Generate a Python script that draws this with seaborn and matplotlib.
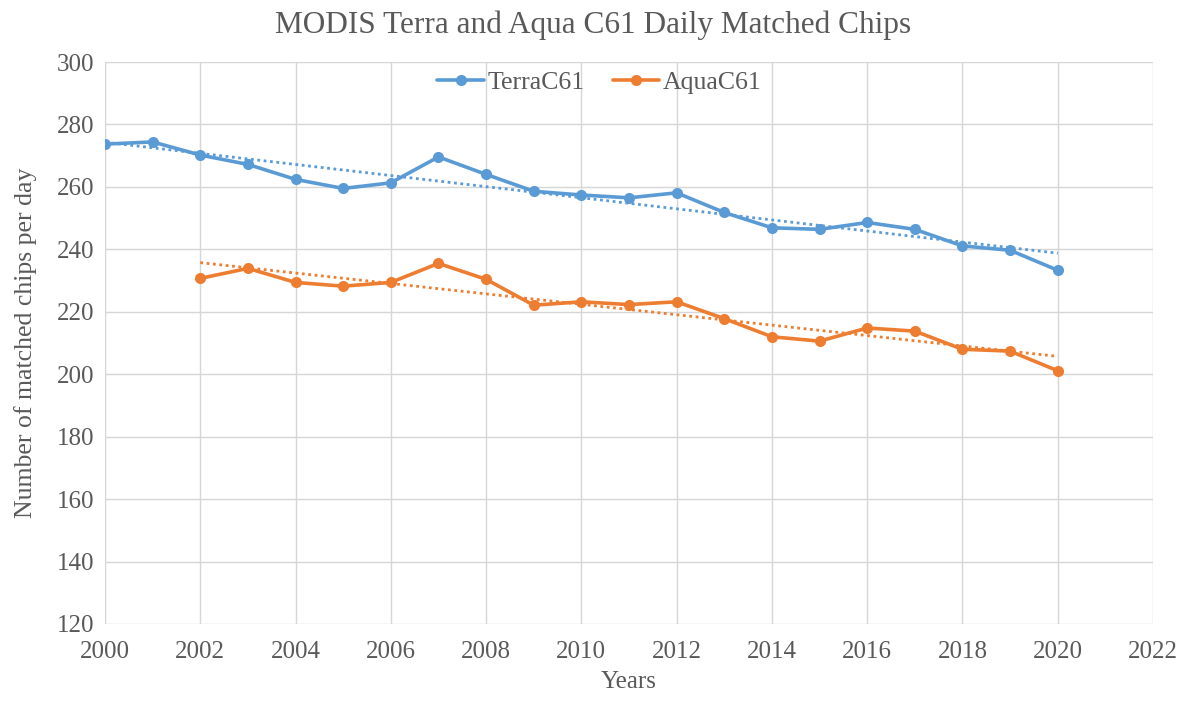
import numpy as np
import pandas as pd
import matplotlib
matplotlib.use("Agg")
import matplotlib.pyplot as plt
import seaborn as sns

# Yearly average number of matched chips per day
terra_years = list(range(2000, 2021))
terra_values = [273.7, 274.4, 270.2, 267.2, 262.4, 259.5, 261.3, 269.6, 264.0,
                258.6, 257.4, 256.5, 258.1, 251.8, 246.9, 246.4, 248.6, 246.4,
                241.1, 239.7, 233.3]

aqua_years = list(range(2002, 2021))
aqua_values = [230.7, 233.9, 229.4, 228.2, 229.4, 235.5, 230.4, 222.1, 223.2,
               222.3, 223.2, 217.8, 212.0, 210.6, 214.8, 213.8, 208.0, 207.4,
               201.1]

series_names = ["TerraC61", "AquaC61"]
colors = {"TerraC61": "#5B9BD5", "AquaC61": "#ED7D31"}

x_ticks = list(range(2000, 2023, 2))
y_ticks = list(range(120, 301, 20))

df = pd.concat([
    pd.DataFrame({"Year": terra_years, "Chips": terra_values, "Sensor": "TerraC61"}),
    pd.DataFrame({"Year": aqua_years, "Chips": aqua_values, "Sensor": "AquaC61"}),
], ignore_index=True)

sns.set_theme(style="white")
plt.rcParams["font.family"] = ["Liberation Serif", "DejaVu Serif"]
text_color = "#595959"

fig = plt.figure(figsize=(11.87, 7.03), dpi=100)
ax = fig.add_axes([105 / 1187, 1 - 624 / 703, (1153 - 105) / 1187, (624 - 62) / 703])

sns.lineplot(data=df, x="Year", y="Chips", hue="Sensor", hue_order=series_names,
             palette=colors, marker="o", markersize=8, markeredgewidth=0,
             linewidth=2.6, ax=ax, zorder=3)

# Linear trend lines for each sensor
for name, yrs, vals in [("TerraC61", terra_years, terra_values),
                        ("AquaC61", aqua_years, aqua_values)]:
    coef = np.polyfit(yrs, vals, 1)
    xs = np.array([yrs[0], yrs[-1]])
    ax.plot(xs, np.polyval(coef, xs), linestyle=(0, (1, 1.3)), linewidth=2.0,
            color=colors[name], zorder=2)

ax.set_xlim(2000, 2022)
ax.set_ylim(120, 300)
ax.set_xticks(x_ticks)
ax.set_yticks(y_ticks)
ax.grid(True, color="#D6D6D6", linewidth=1.0)
ax.set_axisbelow(True)
for s in ax.spines.values():
    s.set_visible(False)

ax.tick_params(axis="both", length=0, labelsize=18, labelcolor=text_color, pad=8)
ax.tick_params(axis="x", pad=12)
ax.set_xlabel("Years", fontsize=18, color=text_color, labelpad=6)
ax.set_ylabel("Number of matched chips per day", fontsize=18.5, color=text_color, labelpad=14)
fig.text(0.5, 1 - 25 / 703, "MODIS Terra and Aqua C61 Daily Matched Chips",
         fontsize=22.5, color=text_color, ha="center", va="center")

leg = ax.legend(loc="upper center", bbox_to_anchor=(0.472, 1.025), ncol=2, frameon=False,
                fontsize=18.5, handlelength=1.8, handletextpad=0.15, columnspacing=1.1,
                labelcolor=text_color)

fig.savefig("out.png", dpi=100, facecolor="white")
